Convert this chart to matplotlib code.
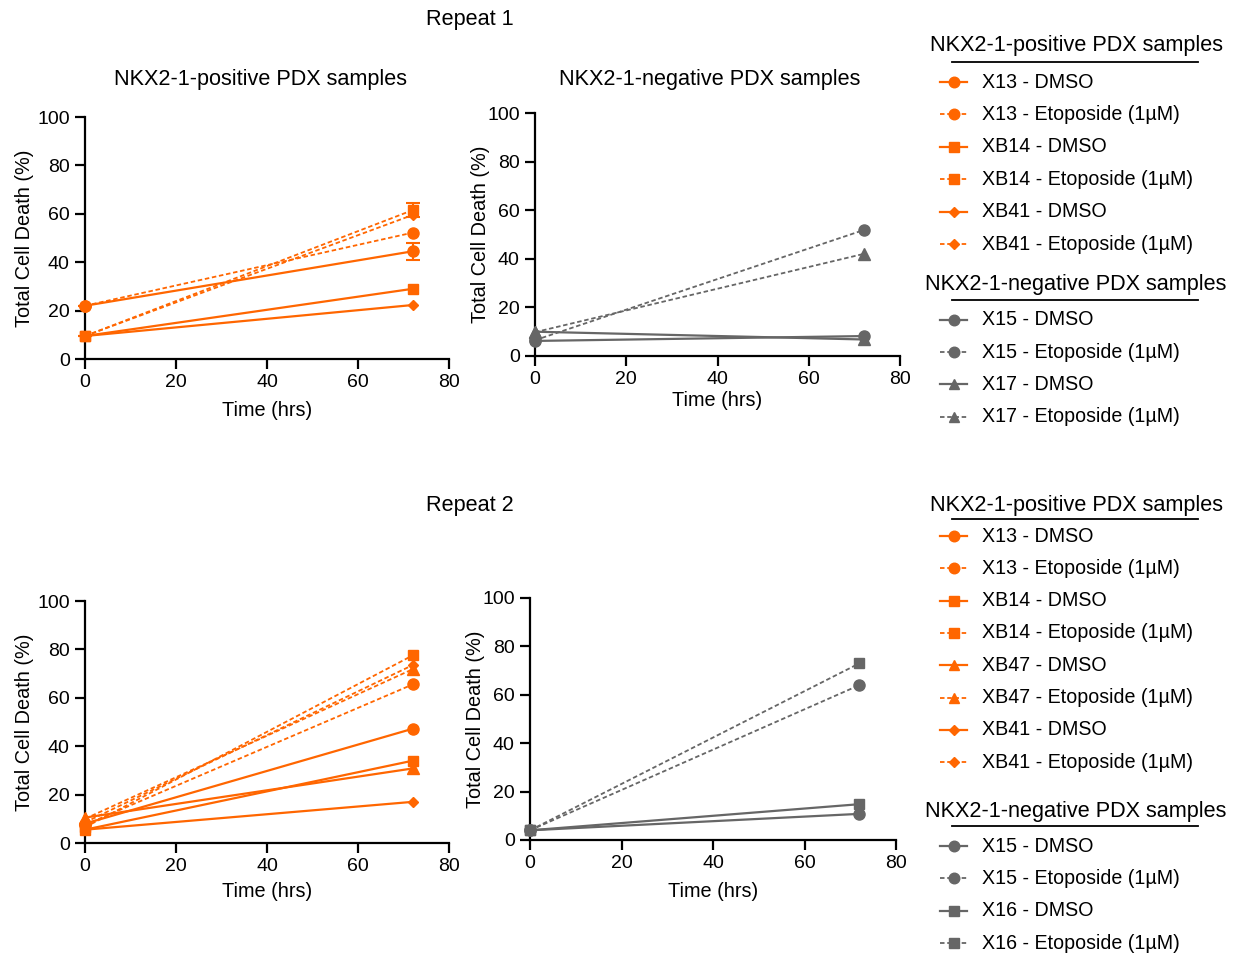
import matplotlib
matplotlib.use("Agg")
import matplotlib.pyplot as plt
from matplotlib.lines import Line2D

plt.rcParams['font.family'] = ['Liberation Sans', 'DejaVu Sans']

W, H = 1238, 956
ORANGE = '#FF6600'
GRAY = '#666666'

time = [0, 72]

# Repeat 1 - NKX2-1-positive
r1_pos_names = ['X13 - DMSO', 'X13 - Etoposide (1µM)', 'XB14 - DMSO',
                'XB14 - Etoposide (1µM)', 'XB41 - DMSO', 'XB41 - Etoposide (1µM)']
r1_pos_values = [[22, 44.5], [22, 52.2], [9.5, 29], [9.5, 61.5], [9.5, 22.3], [9.5, 59.5]]
r1_pos_err = [[0, 3.5], [0, 0], [0, 0], [0, 3], [0, 0], [0, 0]]
r1_pos_markers = ['o', 'o', 's', 's', 'D', 'D']

# Repeat 1 - NKX2-1-negative
r1_neg_names = ['X15 - DMSO', 'X15 - Etoposide (1µM)', 'X17 - DMSO', 'X17 - Etoposide (1µM)']
r1_neg_values = [[6.2, 8.2], [6.5, 51.8], [10, 6.8], [9.8, 42]]
r1_neg_markers = ['o', 'o', '^', '^']

# Repeat 2 - NKX2-1-positive
r2_pos_names = ['X13 - DMSO', 'X13 - Etoposide (1µM)', 'XB14 - DMSO', 'XB14 - Etoposide (1µM)',
                'XB47 - DMSO', 'XB47 - Etoposide (1µM)', 'XB41 - DMSO', 'XB41 - Etoposide (1µM)']
r2_pos_values = [[8, 47.2], [7.5, 65.5], [5.5, 34], [6.5, 77.5],
                 [10.5, 30.8], [10, 71.8], [5.5, 17], [8.5, 73.5]]
r2_pos_markers = ['o', 'o', 's', 's', '^', '^', 'D', 'D']

# Repeat 2 - NKX2-1-negative
r2_neg_names = ['X15 - DMSO', 'X15 - Etoposide (1µM)', 'X16 - DMSO', 'X16 - Etoposide (1µM)']
r2_neg_values = [[4, 10.8], [4, 64], [4, 14.8], [4, 73]]
r2_neg_markers = ['o', 'o', 's', 's']

xticks = [0, 20, 40, 60, 80]
yticks = [0, 20, 40, 60, 80, 100]

fig = plt.figure(figsize=(W / 100, H / 100), dpi=100)


def fx(x):
    return x / W


def fy(y):
    return 1 - y / H


def px_axes(x0, ytop, x1, ybot):
    return fig.add_axes([x0 / W, 1 - ybot / H, (x1 - x0) / W, (ybot - ytop) / H])


MS = {'o': 8, 's': 7.5, '^': 8, 'D': 5.5}
FS_TICK = 14
FS_LAB = 14.3
FS_TITLE = 15.6


def panel(ax, values, markers, color, errs=None, xlabelpad=6, ylabelpad=5):
    for i, (v, m) in enumerate(zip(values, markers)):
        ls = (0, (2.5, 1.5)) if i % 2 == 1 else '-'
        lw = 1.3 if i % 2 == 1 else 1.6
        ax.plot(time, v, color=color, ls=ls, lw=lw, marker=m, ms=MS[m],
                mec=color, mfc=color, clip_on=False, zorder=3)
        if errs is not None and any(errs[i]):
            ax.errorbar(time, v, yerr=errs[i], fmt='none', ecolor=color,
                        elinewidth=1.5, capsize=5, capthick=1.5, clip_on=False, zorder=3)
    ax.set_xlim(0, 80)
    ax.set_ylim(0, 100)
    ax.set_xticks(xticks)
    ax.set_yticks(yticks)
    for s in ['top', 'right']:
        ax.spines[s].set_visible(False)
    for s in ['left', 'bottom']:
        ax.spines[s].set_linewidth(1.6)
    ax.tick_params(direction='out', length=7, width=1.6, labelsize=FS_TICK, pad=4)
    ax.set_xlabel('Time (hrs)', fontsize=FS_LAB, labelpad=xlabelpad)
    ax.set_ylabel('Total Cell Death (%)', fontsize=FS_LAB, labelpad=ylabelpad)
    ax.patch.set_alpha(0)


ax1 = px_axes(85, 117, 449, 359)
panel(ax1, r1_pos_values, r1_pos_markers, ORANGE, r1_pos_err, xlabelpad=7, ylabelpad=2)

ax2 = px_axes(535, 113, 900, 356)
panel(ax2, r1_neg_values, r1_neg_markers, GRAY, xlabelpad=2, ylabelpad=-2)

ax3 = px_axes(85, 601, 449, 843)
panel(ax3, r2_pos_values, r2_pos_markers, ORANGE, xlabelpad=5, ylabelpad=2)

ax4 = px_axes(530, 598, 896, 840)
panel(ax4, r2_neg_values, r2_neg_markers, GRAY, xlabelpad=7, ylabelpad=-2)

fig.text(fx(260), fy(80), 'NKX2-1-positive PDX samples', ha='center', va='center', fontsize=FS_TITLE)
fig.text(fx(710), fy(80), 'NKX2-1-negative PDX samples', ha='center', va='center', fontsize=FS_TITLE)
fig.text(fx(470), fy(20), 'Repeat 1', ha='center', va='center', fontsize=FS_TITLE)
fig.text(fx(470), fy(506), 'Repeat 2', ha='center', va='center', fontsize=FS_TITLE)


def legend_group(title, title_y, underline_y, names, markers, color, first_y, step):
    fig.text(fx(1076), fy(title_y), title, ha='center', va='center', fontsize=FS_TITLE)
    fig.add_artist(Line2D([fx(952), fx(1198)], [fy(underline_y)] * 2,
                          transform=fig.transFigure, color='black', lw=1.3))
    for i, (n, m) in enumerate(zip(names, markers)):
        y = first_y + i * step
        ls = (0, (2.5, 1.5)) if i % 2 == 1 else '-'
        lw = 1.3 if i % 2 == 1 else 1.6
        fig.add_artist(Line2D([fx(940), fx(967)], [fy(y)] * 2, transform=fig.transFigure,
                              color=color, ls=ls, lw=lw))
        fig.add_artist(Line2D([fx(954)], [fy(y)], transform=fig.transFigure,
                              color=color, marker=m, ms=MS[m] * 0.95, ls='none'))
        fig.text(fx(982), fy(y), n, ha='left', va='center', fontsize=14.1)


legend_group('NKX2-1-positive PDX samples', 46, 62, r1_pos_names, r1_pos_markers, ORANGE, 82, 32.4)
legend_group('NKX2-1-negative PDX samples', 285, 300, r1_neg_names, r1_neg_markers, GRAY, 319.5, 32.5)
legend_group('NKX2-1-positive PDX samples', 506, 519, r2_pos_names, r2_pos_markers, ORANGE, 536, 32.3)
legend_group('NKX2-1-negative PDX samples', 812, 826, r2_neg_names, r2_neg_markers, GRAY, 846, 32.4)

fig.savefig('out.png', dpi=100)
